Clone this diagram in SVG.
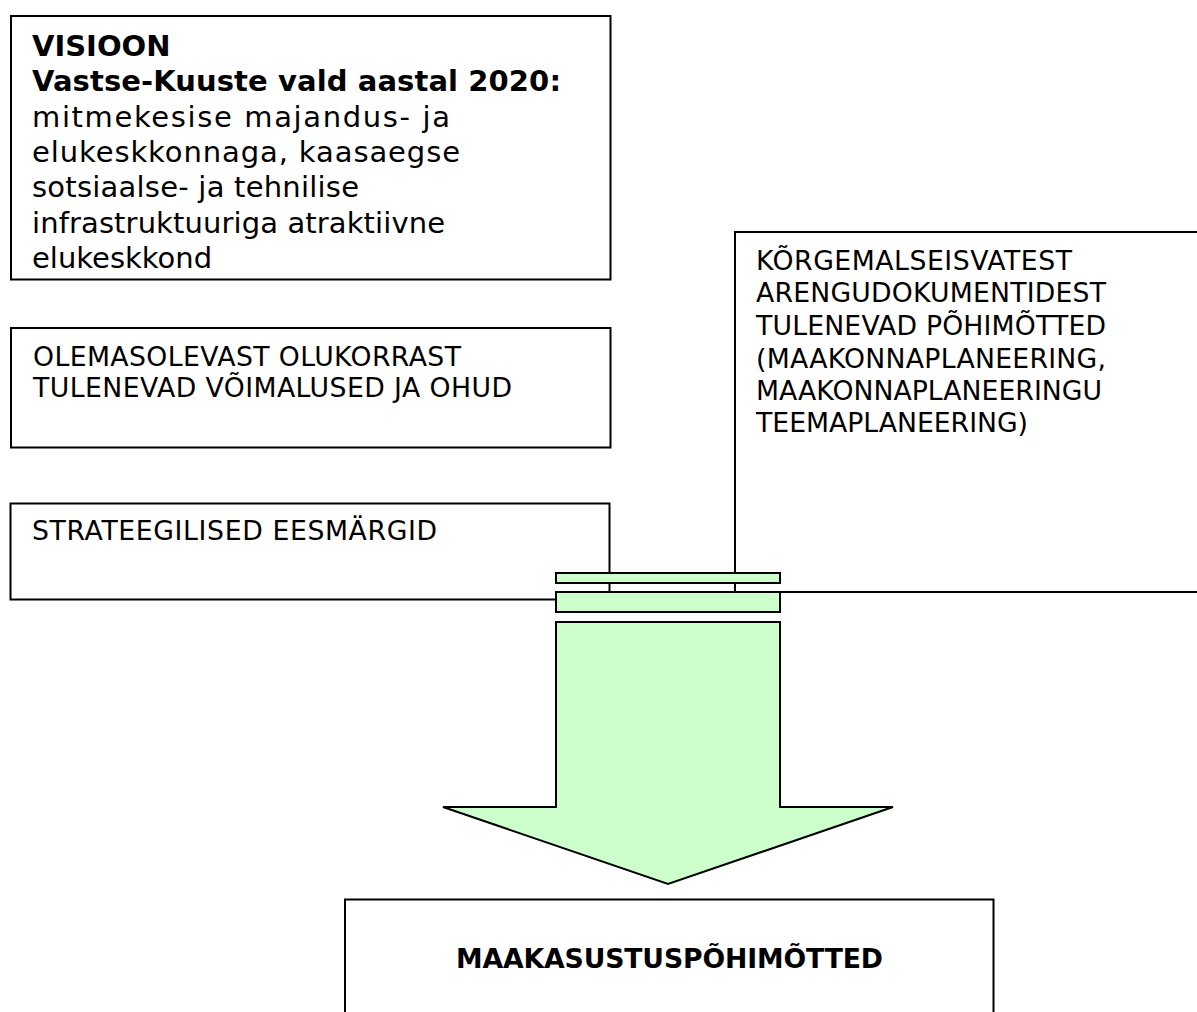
<svg xmlns="http://www.w3.org/2000/svg" width="1197" height="1012" viewBox="0 0 1197 1012">
<style>
.box{fill:#fff;stroke:#000;stroke-width:2}
.bar{fill:#ccffcc;stroke:#000;stroke-width:2}
.t{font-family:"DejaVu Sans",Verdana,sans-serif;font-size:26.7px;fill:#000}
.v{font-family:"DejaVu Sans",Verdana,sans-serif;font-size:29px;fill:#000}
.b{font-weight:bold}
</style>
<rect width="1197" height="1012" fill="#fff"/>
<g id="visioon">
<rect class="box" x="11" y="16" width="599.5" height="263.5"/>
<text class="v b" x="32" y="56">VISIOON</text>
<text class="v b" x="32" y="91" textLength="529" lengthAdjust="spacing">Vastse-Kuuste vald aastal 2020:</text>
<text class="v" x="32" y="127" textLength="418" lengthAdjust="spacing">mitmekesise majandus- ja</text>
<text class="v" x="32" y="162" textLength="428" lengthAdjust="spacing">elukeskkonnaga, kaasaegse</text>
<text class="v" x="32" y="197" textLength="327" lengthAdjust="spacing">sotsiaalse- ja tehnilise</text>
<text class="v" x="32" y="233" textLength="413" lengthAdjust="spacing">infrastruktuuriga atraktiivne</text>
<text class="v" x="32" y="268">elukeskkond</text>
</g>
<g id="olukord">
<rect class="box" x="11" y="328" width="599.5" height="119.5"/>
<text class="t" x="33" y="366" textLength="428" lengthAdjust="spacing">OLEMASOLEVAST OLUKORRAST</text>
<text class="t" x="33" y="397" textLength="479" lengthAdjust="spacing">TULENEVAD VÕIMALUSED JA OHUD</text>
</g>
<g id="eesmargid">
<rect class="box" x="10.5" y="503.5" width="599" height="96"/>
<text class="t" x="32" y="540" textLength="405" lengthAdjust="spacing">STRATEEGILISED EESMÄRGID</text>
</g>
<g id="pohimotted">
<rect class="box" x="735" y="232" width="470" height="360"/>
<text class="t" x="756" y="270" textLength="316" lengthAdjust="spacing">KÕRGEMALSEISVATEST</text>
<text class="t" x="756" y="302" textLength="350" lengthAdjust="spacing">ARENGUDOKUMENTIDEST</text>
<text class="t" x="756" y="335" textLength="350" lengthAdjust="spacing">TULENEVAD PÕHIMÕTTED</text>
<text class="t" x="756" y="368" textLength="350" lengthAdjust="spacing">(MAAKONNAPLANEERING,</text>
<text class="t" x="756" y="400" textLength="346" lengthAdjust="spacing">MAAKONNAPLANEERINGU</text>
<text class="t" x="756" y="432" textLength="272" lengthAdjust="spacing">TEEMAPLANEERING)</text>
</g>
<g id="connectors">
<rect class="bar" x="556" y="573" width="224" height="10"/>
<rect class="bar" x="556" y="592" width="224" height="20"/>
<polygon class="bar" points="556,622 780,622 780,807 893,807 668,884 443,807 556,807"/>
</g>
<g id="maakasutus">
<rect class="box" x="345" y="899.5" width="648.5" height="130"/>
<text class="t b" x="456" y="968" textLength="427" lengthAdjust="spacing">MAAKASUSTUSPÕHIMÕTTED</text>
</g>
</svg>
